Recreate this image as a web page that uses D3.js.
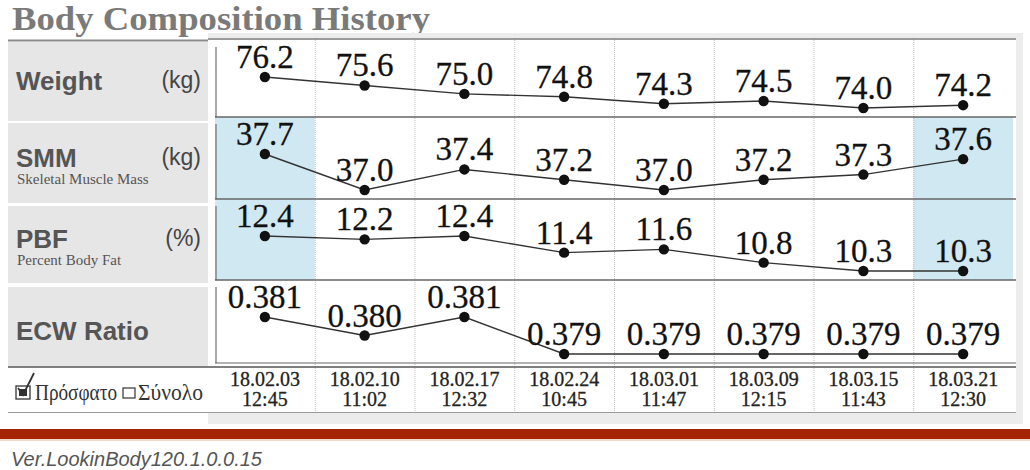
<!DOCTYPE html>
<html><head><meta charset="utf-8">
<script src="https://cdn.jsdelivr.net/npm/d3@7"></script>
<style>html,body{margin:0;padding:0;background:#fff;}svg{display:block;}</style>
</head><body>
<svg id="c" width="1030" height="470"></svg>
<script>
const dates = ["18.02.03","18.02.10","18.02.17","18.02.24","18.03.01","18.03.09","18.03.15","18.03.21"];
const times = ["12:45","11:02","12:32","10:45","11:47","12:15","11:43","12:30"];
const weight = [76.2,75.6,75.0,74.8,74.3,74.5,74.0,74.2];
const smm = [37.7,37.0,37.4,37.2,37.0,37.2,37.3,37.6];
const pbf = [12.4,12.2,12.4,11.4,11.6,10.8,10.3,10.3];
const ecw = [0.381,0.380,0.381,0.379,0.379,0.379,0.379,0.379];
const rowNames = ["Weight","SMM","PBF","ECW Ratio"];
const rowSubs = ["","Skeletal Muscle Mass","Percent Body Fat",""];
const rowUnits = ["(kg)","(kg)","(%)",""];
const rowFormats = [".1f",".1f",".1f",".3f"];
const highlights = [[],[0,7],[0,7],[]];
const legendLabels = ["Πρόσφατο","Σύνολο"];

const series = [weight, smm, pbf, ecw];
const svg = d3.select("#c");
const serif = "'Liberation Serif','Times New Roman',serif";
const sans = "'Liberation Sans',Arial,sans-serif";

const X0 = 215, X1 = 1013;
const rowTops = [40,117,199,280];
const rowBots = [117,199,280,363];
const x = d3.scaleBand().domain(d3.range(dates.length)).range([X0, X1]);

// title
svg.append("text").attr("x",12).attr("y",30).attr("font-family",serif).attr("font-weight","bold")
  .attr("font-size",33.5).attr("fill","#7a7a7a").attr("textLength",418).attr("lengthAdjust","spacingAndGlyphs")
  .text("Body Composition History");

// frame shadow
svg.append("rect").attr("x",208).attr("y",33).attr("width",815).attr("height",391).attr("fill","#ececec");
svg.append("rect").attr("x",208).attr("y",38).attr("width",808).attr("height",375).attr("fill","#fff");

// label panel
const boxes = [[42,121],[123,203],[206,283],[287,366]];
boxes.forEach(([a,b]) => svg.append("rect").attr("x",8).attr("y",a).attr("width",200).attr("height",b-a).attr("fill","#e6e6e6"));
svg.append("line").attr("x1",8).attr("x2",208).attr("y1",40.5).attr("y2",40.5).attr("stroke","#8a8a8a").attr("stroke-width",2);

const nameY = [90,167,248,340];
rowNames.forEach((n,i) => {
  svg.append("text").attr("x",16).attr("y",nameY[i]).attr("font-family",sans).attr("font-weight","bold")
    .attr("font-size",26).attr("fill","#555").text(n);
  if (rowUnits[i]) svg.append("text").attr("x",201).attr("y",nameY[i]-2).attr("text-anchor","end")
    .attr("font-family",sans).attr("font-size",23).attr("fill","#444").text(rowUnits[i]);
  if (rowSubs[i]) svg.append("text").attr("x",17).attr("y",nameY[i]+17).attr("font-family",serif)
    .attr("font-size",15).attr("fill","#555").text(rowSubs[i]);
});

// highlights
highlights.forEach((h,i) => h.forEach(c => svg.append("rect").attr("x",x(c)).attr("y",rowTops[i])
  .attr("width",x.bandwidth()).attr("height",rowBots[i]-rowTops[i]).attr("fill","#cfe8f2")));

// vertical grid
d3.range(1, dates.length).forEach(c => svg.append("line").attr("x1",x(c)+0.5).attr("x2",x(c)+0.5)
  .attr("y1",38).attr("y2",412).attr("stroke","#bdbdbd").attr("stroke-dasharray","1,1"));

// row lines
svg.append("line").attr("x1",208).attr("x2",1016).attr("y1",39).attr("y2",39).attr("stroke","#7a7a7a").attr("stroke-width",1.5);
rowBots.slice(0,3).forEach(b => svg.append("line").attr("x1",X0).attr("x2",1016).attr("y1",b).attr("y2",b)
  .attr("stroke","#666").attr("stroke-width",1.5));
svg.append("line").attr("x1",X0).attr("x2",1016).attr("y1",363).attr("y2",363).attr("stroke","#666").attr("stroke-width",1.2);
svg.append("line").attr("x1",8).attr("x2",1016).attr("y1",367).attr("y2",367).attr("stroke","#555").attr("stroke-width",1.5);
svg.append("line").attr("x1",8).attr("x2",1016).attr("y1",412.5).attr("y2",412.5).attr("stroke","#9a9a9a").attr("stroke-width",1.2);
rowTops.forEach((t,i) => svg.append("line").attr("x1",216).attr("x2",216).attr("y1",t+7).attr("y2",rowBots[i])
  .attr("stroke","#555").attr("stroke-width",1));

// series
series.forEach((vals,i) => {
  const y = d3.scaleLinear().domain(d3.extent(vals)).range([rowBots[i]-9, rowTops[i]+37]);
  const cx = (d,j) => x(j) + x.bandwidth()/2;
  const g = svg.append("g");
  g.append("path").datum(vals).attr("fill","none").attr("stroke","#333").attr("stroke-width",1.4)
    .attr("d", d3.line().x(cx).y(d => y(d)));
  g.selectAll("text").data(vals).join("text").attr("x",cx).attr("y",d => y(d)-9).attr("text-anchor","middle")
    .attr("font-family",serif).attr("font-size",33).attr("fill","#111").attr("stroke","#111").attr("stroke-width",0.3)
    .text(d => d3.format(rowFormats[i])(d));
  g.selectAll("circle").data(vals).join("circle").attr("cx",cx).attr("cy",d => y(d)).attr("r",5.2).attr("fill","#111");
});

// dates
const xa = svg.append("g");
xa.selectAll(".d").data(dates).join("text").attr("class","d").attr("x",(d,j)=>x(j)+x.bandwidth()/2).attr("y",386)
  .attr("text-anchor","middle").attr("font-family",serif).attr("font-size",20).attr("fill","#222")
  .attr("stroke","#222").attr("stroke-width",0.3).text(d=>d);
xa.selectAll(".t").data(times).join("text").attr("class","t").attr("x",(d,j)=>x(j)+x.bandwidth()/2).attr("y",406)
  .attr("text-anchor","middle").attr("font-family",serif).attr("font-size",20).attr("fill","#222")
  .attr("stroke","#222").attr("stroke-width",0.3).text(d=>d);

// legend: checked box
svg.append("rect").attr("x",16).attr("y",386).attr("width",14).attr("height",13).attr("fill","none").attr("stroke","#333").attr("stroke-width",1.3);
svg.append("rect").attr("x",19).attr("y",389).attr("width",8).attr("height",7).attr("fill","#333");
svg.append("path").attr("d","M18,388 L23,395 L34,373").attr("fill","none").attr("stroke","#333").attr("stroke-width",1.8);
svg.append("text").attr("x",35).attr("y",400).attr("font-family",serif).attr("font-size",22.5).attr("fill","#333")
  .attr("textLength",82).attr("lengthAdjust","spacingAndGlyphs").text(legendLabels[0]);
svg.append("rect").attr("x",123).attr("y",388).attr("width",12).attr("height",10).attr("fill","none").attr("stroke","#333").attr("stroke-width",1.2);
svg.append("text").attr("x",138).attr("y",400).attr("font-family",serif).attr("font-size",22.5).attr("fill","#333")
  .attr("textLength",65).attr("lengthAdjust","spacingAndGlyphs").text(legendLabels[1]);

// footer band
svg.append("rect").attr("x",0).attr("y",429).attr("width",1030).attr("height",10).attr("fill","#a42305");
svg.append("rect").attr("x",0).attr("y",439).attr("width",1030).attr("height",2).attr("fill","#f3d6cc");
svg.append("text").attr("x",11).attr("y",466).attr("font-family",sans).attr("font-style","italic")
  .attr("font-size",20).attr("fill","#555").text("Ver.LookinBody120.1.0.0.15");
</script>
</body></html>
